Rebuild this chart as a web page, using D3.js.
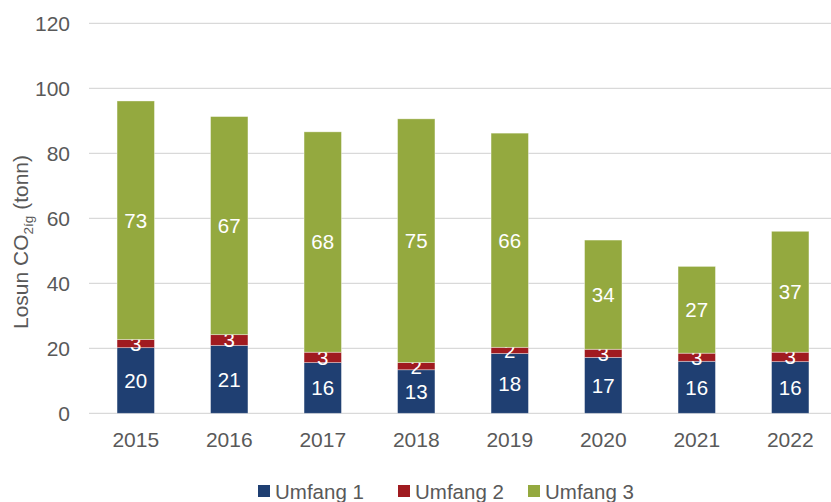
<!DOCTYPE html>
<html>
<head>
<meta charset="utf-8">
<script src="https://cdn.jsdelivr.net/npm/d3@7"></script>
<style>
  body { margin: 0; background: #fff; }
  svg { display: block; font-family: "Liberation Sans", Arial, sans-serif; }
</style>
</head>
<body>
<svg id="chart"></svg>
<script>
// data
const years = ["2015", "2016", "2017", "2018", "2019", "2020", "2021", "2022"];
const umfang1 = [20.2, 20.9, 15.6, 13.4, 18.4, 17.2, 16.0, 15.9];
const umfang2 = [2.5, 3.3, 3.2, 2.2, 1.9, 2.5, 2.5, 2.9];
const umfang3 = [73.4, 67.1, 67.8, 75.0, 65.9, 33.6, 26.7, 37.2];
const seriesNames = ["Umfang 1", "Umfang 2", "Umfang 3"];
const yTicks = [0, 20, 40, 60, 80, 100, 120];

const colors = ["#1f3f72", "#a01b20", "#94a93f"];

const width = 831, height = 502;
const margin = { top: 23.3, left: 89, bottom: 88.7 };
const plotRight = 837;

const svg = d3.select("#chart").attr("width", width).attr("height", height);

const x = d3.scaleBand().domain(years).range([margin.left, plotRight]).paddingInner(0.6).paddingOuter(0.3);
const y = d3.scaleLinear().domain([0, 120]).range([height - margin.bottom, margin.top]);

// gridlines
svg.append("g")
  .selectAll("line")
  .data(yTicks)
  .join("line")
  .attr("x1", margin.left)
  .attr("x2", plotRight)
  .attr("y1", d => y(d))
  .attr("y2", d => y(d))
  .attr("stroke", "#d9d9d9")
  .attr("stroke-width", 1.3);

// y tick labels
svg.append("g")
  .selectAll("text")
  .data(yTicks)
  .join("text")
  .attr("x", 70)
  .attr("y", d => y(d))
  .attr("dy", "0.35em")
  .attr("text-anchor", "end")
  .attr("font-size", 21)
  .attr("fill", "#595959")
  .text(d => d);

// x labels
svg.append("g")
  .selectAll("text")
  .data(years)
  .join("text")
  .attr("x", d => x(d) + x.bandwidth() / 2)
  .attr("y", 446.5)
  .attr("text-anchor", "middle")
  .attr("font-size", 21)
  .attr("fill", "#595959")
  .text(d => d);

// stacked bars
const table = years.map((yr, i) => ({ year: yr, u1: umfang1[i], u2: umfang2[i], u3: umfang3[i] }));
const stack = d3.stack().keys(["u1", "u2", "u3"])(table);

const layers = svg.append("g")
  .selectAll("g")
  .data(stack)
  .join("g")
  .attr("fill", (d, i) => colors[i]);

layers.selectAll("rect")
  .data(d => d)
  .join("rect")
  .attr("x", d => x(d.data.year))
  .attr("width", x.bandwidth())
  .attr("y", d => y(d[1]))
  .attr("height", d => y(d[0]) - y(d[1]))
  .attr("stroke", "rgba(255,255,255,0.45)")
  .attr("stroke-width", 0.8);

// value labels
layers.selectAll("text")
  .data(d => d.map(p => ({ p, key: d.key })))
  .join("text")
  .attr("x", d => x(d.p.data.year) + x.bandwidth() / 2)
  .attr("y", d => y((d.p[0] + d.p[1]) / 2))
  .attr("dy", "0.36em")
  .attr("text-anchor", "middle")
  .attr("font-size", 20.5)
  .attr("fill", "#fff")
  .text(d => Math.round(d.p.data[d.key]));

// y axis title
const title = svg.append("text")
  .attr("transform", "translate(28,242) rotate(-90)")
  .attr("text-anchor", "middle")
  .attr("font-size", 21)
  .attr("fill", "#595959");
title.append("tspan").text("Losun CO");
title.append("tspan").attr("font-size", 13.5).attr("dy", 5).text("2íg");
title.append("tspan").attr("dy", -5).text(" (tonn)");

// legend
const legendX = [256, 396, 526];
const legend = svg.append("g")
  .selectAll("g")
  .data(seriesNames)
  .join("g")
  .attr("transform", (d, i) => `translate(${legendX[i]},0)`);
legend.append("rect")
  .attr("x", 2)
  .attr("y", 485)
  .attr("width", 12)
  .attr("height", 12)
  .attr("fill", (d, i) => colors[i]);
legend.append("text")
  .attr("x", 19)
  .attr("y", 498.5)
  .attr("font-size", 20.5)
  .attr("fill", "#595959")
  .text(d => d);
</script>
</body>
</html>
